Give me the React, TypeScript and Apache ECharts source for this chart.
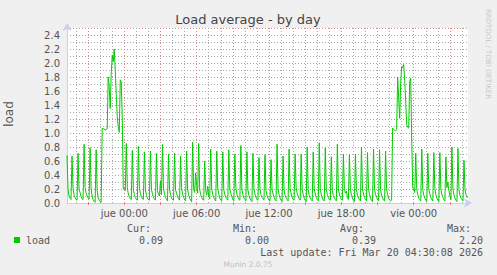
import React, { useEffect, useRef } from 'react';
import * as echarts from 'echarts';

// 5-minute samples, Wed 19:15 -> Fri 04:30 (400 samples)
const loadValues: number[] = [
  0.68, 0.20, 0.10, 0.07, 0.05, 0.67,
  0.21, 0.12, 0.08, 0.05, 0.04, 0.71,
  0.19, 0.15, 0.09, 0.06, 0.05, 0.84,
  0.22, 0.14, 0.10, 0.07, 0.06, 0.79,
  0.20, 0.10, 0.05, 0.02, 0.01, 0.76,
  0.18, 0.08, 0.04, 0.02, 0.01, 1.07,
  1.06, 1.06, 1.04, 1.05, 1.06, 1.80,
  1.66, 1.35, 1.85, 2.11, 2.02, 2.20,
  1.90, 1.55, 1.23, 1.09, 1.01, 1.76,
  1.73, 1.20, 0.20, 0.21, 0.18, 0.85,
  0.22, 0.13, 0.09, 0.06, 0.05, 0.75,
  0.20, 0.12, 0.08, 0.05, 0.04, 0.81,
  0.21, 0.14, 0.09, 0.06, 0.05, 0.73,
  0.19, 0.11, 0.07, 0.05, 0.04, 0.74,
  0.20, 0.13, 0.08, 0.06, 0.04, 0.71,
  0.18, 0.12, 0.10, 0.32, 0.12, 0.84,
  0.21, 0.13, 0.08, 0.05, 0.03, 0.70,
  0.20, 0.12, 0.07, 0.05, 0.04, 0.71,
  0.19, 0.14, 0.09, 0.06, 0.04, 0.67,
  0.22, 0.13, 0.08, 0.05, 0.03, 0.74,
  0.20, 0.12, 0.07, 0.04, 0.02, 0.87,
  0.21, 0.15, 0.43, 0.25, 0.14, 0.85,
  0.20, 0.12, 0.08, 0.05, 0.04, 0.60,
  0.18, 0.11, 0.24, 0.10, 0.06, 0.77,
  0.20, 0.12, 0.08, 0.05, 0.03, 0.74,
  0.21, 0.13, 0.07, 0.04, 0.03, 0.73,
  0.19, 0.12, 0.08, 0.06, 0.04, 0.76,
  0.20, 0.14, 0.09, 0.05, 0.03, 0.70,
  0.22, 0.13, 0.08, 0.05, 0.04, 0.82,
  0.20, 0.12, 0.07, 0.05, 0.03, 0.73,
  0.19, 0.11, 0.07, 0.04, 0.02, 0.71,
  0.21, 0.13, 0.08, 0.05, 0.04, 0.65,
  0.20, 0.12, 0.08, 0.06, 0.04, 0.69,
  0.18, 0.11, 0.07, 0.04, 0.03, 0.62,
  0.20, 0.13, 0.08, 0.05, 0.03, 0.84,
  0.21, 0.12, 0.07, 0.04, 0.02, 0.67,
  0.19, 0.11, 0.07, 0.05, 0.03, 0.77,
  0.20, 0.13, 0.08, 0.05, 0.04, 0.70,
  0.22, 0.14, 0.09, 0.06, 0.04, 0.70,
  0.20, 0.12, 0.07, 0.04, 0.02, 0.80,
  0.19, 0.11, 0.07, 0.05, 0.03, 0.73,
  0.20, 0.13, 0.08, 0.05, 0.03, 0.86,
  0.21, 0.12, 0.07, 0.04, 0.03, 0.79,
  0.20, 0.12, 0.08, 0.05, 0.04, 0.66,
  0.18, 0.11, 0.07, 0.05, 0.03, 0.84,
  0.20, 0.13, 0.08, 0.05, 0.04, 0.70,
  0.21, 0.14, 0.17, 0.08, 0.05, 0.69,
  0.20, 0.12, 0.07, 0.04, 0.02, 0.70,
  0.19, 0.11, 0.07, 0.05, 0.03, 0.80,
  0.20, 0.13, 0.08, 0.05, 0.03, 0.72,
  0.21, 0.12, 0.07, 0.04, 0.02, 0.77,
  0.20, 0.12, 0.08, 0.05, 0.03, 0.76,
  0.19, 0.11, 0.07, 0.04, 0.03, 0.74,
  0.20, 0.12, 0.07, 0.04, 0.03, 0.04,
  1.07, 1.05, 1.04, 1.03, 1.05, 1.80,
  1.50, 1.21, 1.70, 1.95, 1.93, 1.98,
  1.75, 1.45, 1.12, 1.08, 1.07, 1.74,
  1.78, 0.90, 0.22, 0.20, 0.15, 0.71,
  0.20, 0.12, 0.07, 0.05, 0.03, 0.77,
  0.19, 0.11, 0.07, 0.04, 0.02, 0.71,
  0.20, 0.13, 0.08, 0.05, 0.03, 0.72,
  0.21, 0.12, 0.07, 0.04, 0.02, 0.72,
  0.20, 0.12, 0.08, 0.05, 0.03, 0.66,
  0.22, 0.30, 0.18, 0.10, 0.05, 0.80,
  0.20, 0.12, 0.07, 0.04, 0.02, 0.78,
  0.19, 0.11, 0.07, 0.05, 0.03, 0.61,
  0.20, 0.12, 0.08, 0.09,
];

const dayNames = ['dom', 'lun', 'mar', 'mié', 'jue', 'vie', 'sáb'];
const startDayOfWeek = 3; // Wednesday
const startMinuteOfDay = 19 * 60 + 15;
const stepMinutes = 5;

const yTicks = [0, 0.2, 0.4, 0.6, 0.8, 1.0, 1.2, 1.4, 1.6, 1.8, 2.0, 2.2, 2.4];
const yMax = 2.5;

const legendHeaders = ['Cur:', 'Min:', 'Avg:', 'Max:'];
const legendStats = ['0.09', '0.00', '0.39', '2.20'];
const seriesName = 'load';
const lastUpdate = 'Last update: Fri Mar 20 04:30:08 2026';

const pad = (n: number) => (n < 10 ? '0' + n : '' + n);
const categories = loadValues.map((_, i) => {
  const t = startMinuteOfDay + i * stepMinutes;
  const d = (startDayOfWeek + Math.floor(t / 1440)) % 7;
  const m = t % 1440;
  return `${dayNames[d]} ${pad(Math.floor(m / 60))}:${pad(m % 60)}`;
});
const hourOf = (v: string) => parseInt(v.split(' ')[1].split(':')[0], 10);
const isFullHour = (v: string) => v.endsWith(':00');
const majorHourCats = categories.filter((v) => isFullHour(v) && hourOf(v) % 3 === 0);

const SANS = '"DejaVu Sans", sans-serif';
const MONO = '"DejaVu Sans Mono", monospace';

export default function App() {
  const ref = useRef<HTMLDivElement>(null);
  useEffect(() => {
    if (!ref.current) return;
    const chart = echarts.init(ref.current, undefined, { renderer: 'svg' });
    const gridL = 67, gridT = 28, gridW = 401, gridH = 175;
    const colX = [151, 257, 364, 471];
    const valX = [163, 269, 376, 483];
    const graphic: any[] = [
      {
        type: 'text', x: 248, y: 19,
        style: { text: 'Load average - by day', font: `13px ${SANS}`, fill: '#444', textAlign: 'center', textVerticalAlign: 'middle' },
      },
      {
        type: 'text', x: 9, y: 114, rotation: Math.PI / 2,
        style: { text: 'load', font: `12px ${SANS}`, fill: '#555', textAlign: 'center', textVerticalAlign: 'middle' },
      },
      {
        type: 'text', x: 488, y: 54, rotation: -Math.PI / 2,
        style: { text: 'RRDTOOL / TOBI OETIKER', font: `7px ${SANS}`, fill: '#c8c8c8', textAlign: 'center', textVerticalAlign: 'middle' },
      },
      { type: 'rect', shape: { x: 14, y: 237, width: 6, height: 6 }, style: { fill: '#00cc00' } },
      {
        type: 'text', x: 26, y: 240,
        style: { text: seriesName, font: `10px ${MONO}`, fill: '#555', textAlign: 'left', textVerticalAlign: 'middle' },
      },
      {
        type: 'text', x: 483, y: 252,
        style: { text: lastUpdate, font: `10px ${MONO}`, fill: '#555', textAlign: 'right', textVerticalAlign: 'middle' },
      },
      {
        type: 'text', x: 248, y: 264,
        style: { text: 'Munin 2.0.75', font: `7.5px ${SANS}`, fill: '#c0c0c0', textAlign: 'center', textVerticalAlign: 'middle' },
      },
    ];
    legendHeaders.forEach((h, k) => {
      graphic.push({
        type: 'text', x: colX[k], y: 228,
        style: { text: h, font: `10px ${MONO}`, fill: '#555', textAlign: 'right', textVerticalAlign: 'middle' },
      });
      graphic.push({
        type: 'text', x: valX[k], y: 240,
        style: { text: legendStats[k], font: `10px ${MONO}`, fill: '#555', textAlign: 'right', textVerticalAlign: 'middle' },
      });
    });

    const minorLine = { color: '#acacac', width: 1, type: [1, 2] as any, opacity: 1 };
    const majorLine = { color: '#d98a8a', width: 1, type: [1, 2] as any, opacity: 1 };

    chart.setOption({
      animation: false,
      backgroundColor: '#f0f0f0',
      grid: { left: gridL, top: gridT, width: gridW, height: gridH, show: true, backgroundColor: '#ffffff', borderWidth: 0 },
      xAxis: {
        type: 'category', data: categories, boundaryGap: false, position: 'bottom',
        axisLine: { show: true, lineStyle: { color: '#c8cff5', width: 1 }, symbol: ['none', 'arrow'], symbolSize: [7, 8], symbolOffset: [0, 4] },
        axisTick: { show: true, length: 2, interval: (_i: number, v: string) => isFullHour(v) && hourOf(v) % 3 === 0, lineStyle: { color: '#e08080' } },
        axisLabel: {
          show: true, interval: (_i: number, v: string) => isFullHour(v) && hourOf(v) % 6 === 0,
          margin: 5, color: '#555', fontSize: 10, fontFamily: SANS,
        },
        splitLine: { show: true, interval: (_i: number, v: string) => isFullHour(v) && hourOf(v) % 3 !== 0, lineStyle: minorLine },
      },
      yAxis: {
        type: 'value', min: yTicks[0], max: yMax, interval: yTicks[1] - yTicks[0], position: 'left',
        axisLine: { show: true, lineStyle: { color: '#c8cff5', width: 1 }, symbol: ['none', 'arrow'], symbolSize: [7, 8], symbolOffset: [0, 5] },
        axisTick: { show: false },
        minorTick: { show: false, splitNumber: 2 },
        minorSplitLine: { show: true, lineStyle: minorLine },
        axisLabel: {
          show: true, showMaxLabel: false, margin: 7, color: '#555', fontSize: 10, fontFamily: SANS,
          formatter: (v: number) => (yTicks.some((t) => Math.abs(t - v) < 1e-6) ? v.toFixed(1) : ''),
        },
        splitLine: { show: true, lineStyle: majorLine },
      },
      series: [
        {
          name: seriesName, type: 'line',
          data: loadValues, symbol: 'none', showSymbol: false,
          lineStyle: { color: '#00cc00', width: 1 }, z: 5,
          markLine: {
            silent: true, symbol: ['none', 'none'], label: { show: false }, z: 1,
            lineStyle: majorLine, emphasis: { disabled: true },
            data: majorHourCats.map((c) => ({ xAxis: c })),
          },
        },
      ],
      graphic,
    });
    return () => chart.dispose();
  }, []);
  return (
    <div
      ref={ref}
      style={{ position: 'fixed', left: 0, top: 0, width: 497, height: 275, background: '#f0f0f0' }}
    />
  );
}
